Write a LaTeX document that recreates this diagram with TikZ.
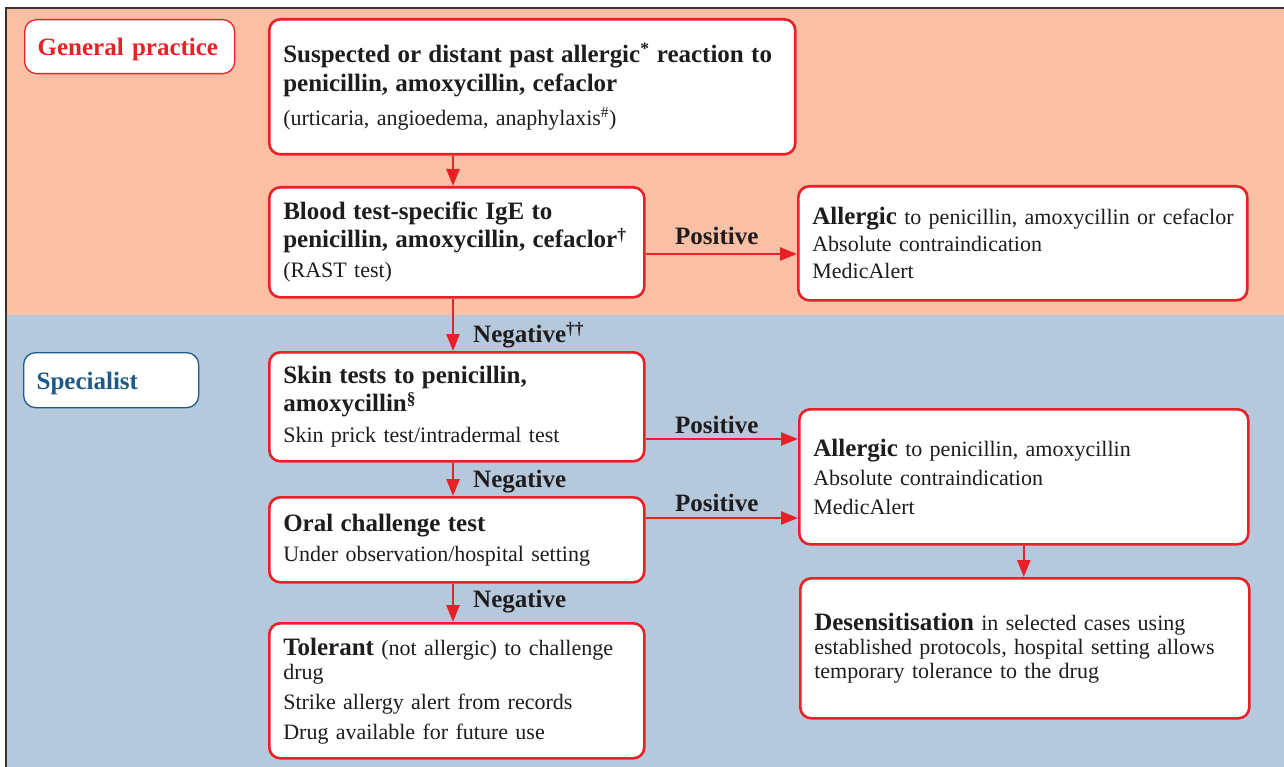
\documentclass[tikz,border=0pt]{standalone}
\usepackage{fontspec}
\setmainfont{Liberation Serif}
\newfontfamily\bff{Liberation Serif}[Scale=1.136]
\usetikzlibrary{arrows.meta}
\definecolor{boxred}{RGB}{232,32,39}
\definecolor{peach}{RGB}{249,192,166}
\definecolor{bluebg}{RGB}{181,200,220}
\definecolor{specblue}{RGB}{28,90,135}
\definecolor{framedark}{RGB}{60,50,45}
\definecolor{ink}{RGB}{30,28,28}
\newcommand\B[1]{{\bff\bfseries #1}}
\tikzset{
  box/.style={draw=boxred, line width=2.6pt, fill=white, rounded corners=11pt,
    rectangle, anchor=north west, inner xsep=14pt, inner ysep=0pt, align=left,
    text=ink},
  grp/.style={fill=white, rounded corners=12pt, line width=1.3pt, rectangle,
    anchor=north west, inner xsep=13pt, inner ysep=0pt, align=left,
    text height=20pt, text depth=2pt,
    font=\fontsize{22}{27}\selectfont\bff\bfseries},
  arr/.style={draw=boxred, line width=2.5pt, -{Triangle[length=17pt,width=13pt]}},
  lab/.style={font=\fontsize{22}{27}\selectfont\bff\bfseries, text=ink, inner sep=0pt}
}
\begin{document}
\begin{tikzpicture}[x=1pt,y=-1pt]
\useasboundingbox (0,0) rectangle (1284,767);
% backgrounds
\fill[peach] (6,8) rectangle (1284,315);
\fill[bluebg] (6,315) rectangle (1284,767);
\draw[framedark, line width=1.6pt] (6,767) -- (6,8) -- (1284,8);

% group labels
\node[grp, draw=boxred, text=boxred, minimum width=210, minimum height=54, text width=184] (gp) at (24,19) {General practice};
\node[grp, draw=specblue, text=specblue, minimum width=175, minimum height=55, text width=149] (sp) at (23,352) {Specialist};

% boxes
\node[box, minimum width=526, minimum height=135, text width=498,
  font=\fontsize{22}{29}\selectfont] (b1) at (268,18)
  {\mbox{\B{Suspected or distant past allergic\textsuperscript{*} reaction to}}\\
   \mbox{\B{penicillin, amoxycillin, cefaclor}}\\[5pt]
   \mbox{(urticaria, angioedema, anaphylaxis\textsuperscript{\#})}};

\node[box, minimum width=375, minimum height=110, text width=347,
  font=\fontsize{22}{28}\selectfont] (b2) at (268,186)
  {\mbox{\B{Blood test-specific IgE to}}\\
   \mbox{\B{penicillin, amoxycillin, cefaclor\textsuperscript{†}}}\\[2pt]
   (RAST test)};

\node[box, minimum width=449, minimum height=114, text width=421,
  font=\fontsize{22}{27}\selectfont] (b3) at (797,185)
  {\mbox{\B{Allergic} to penicillin, amoxycillin or cefaclor}\\
   \mbox{Absolute contraindication}\\
   MedicAlert};

\node[box, minimum width=375, minimum height=109, text width=347,
  font=\fontsize{22}{28}\selectfont] (b4) at (268,351)
  {\mbox{\B{Skin tests to penicillin,}}\\
   \mbox{\B{amoxycillin\textsuperscript{§}}}\\[3pt]
   \mbox{Skin prick test/intradermal test}};

\node[box, minimum width=375, minimum height=85, text width=347,
  font=\fontsize{22}{30}\selectfont] (b5) at (268,496)
  {\mbox{\B{Oral challenge test}}\\
   \mbox{Under observation/hospital setting}};

\node[box, minimum width=449, minimum height=135, text width=421,
  font=\fontsize{22}{29}\selectfont] (b6) at (798,408)
  {\mbox{\B{Allergic} to penicillin, amoxycillin}\\
   \mbox{Absolute contraindication}\\
   MedicAlert};

\node[box, minimum width=449, minimum height=140, text width=421,
  font=\fontsize{22}{24}\selectfont] (b7) at (799,577)
  {\mbox{\B{Desensitisation} in selected cases using}\\
   \mbox{established protocols, hospital setting allows}\\
   \mbox{temporary tolerance to the drug}};

\node[box, minimum width=375, minimum height=135, text width=347,
  font=\fontsize{22}{24}\selectfont] (b8) at (268,622)
  {\mbox{\B{Tolerant} (not allergic) to challenge}\\
   drug\\[6pt]
   \mbox{Strike allergy alert from records}\\[6pt]
   \mbox{Drug available for future use}};

% vertical arrows
\draw[arr] (b1.south -| 453,0) -- (b2.north -| 453,0);
\draw[arr] (b2.south -| 453,0) -- (b4.north -| 453,0);
\draw[arr] (b4.south -| 453,0) -- (b5.north -| 453,0);
\draw[arr] (b5.south -| 453,0) -- (b8.north -| 453,0);
\draw[arr] (b6.south) -- (b6.south |- b7.north);

% horizontal arrows
\draw[arr] (b2.east |- 0,254) -- (b3.west |- 0,254);
\draw[arr] (b4.east |- 0,439) -- (b6.west |- 0,439);
\draw[arr] (b5.east |- 0,518) -- (b6.west |- 0,518);

% labels
\node[lab, anchor=base west] (p1) at (675,245) {Positive};
\node[lab, anchor=base west] (p2) at (675,433) {Positive};
\node[lab, anchor=base west] (p3) at (675,511) {Positive};
\node[lab, anchor=base west] (n1) at (473,342) {Negative\textsuperscript{††}};
\node[lab, anchor=base west] (n2) at (473,487) {Negative};
\node[lab, anchor=base west] (n3) at (473,607) {Negative};
\end{tikzpicture}
\end{document}
